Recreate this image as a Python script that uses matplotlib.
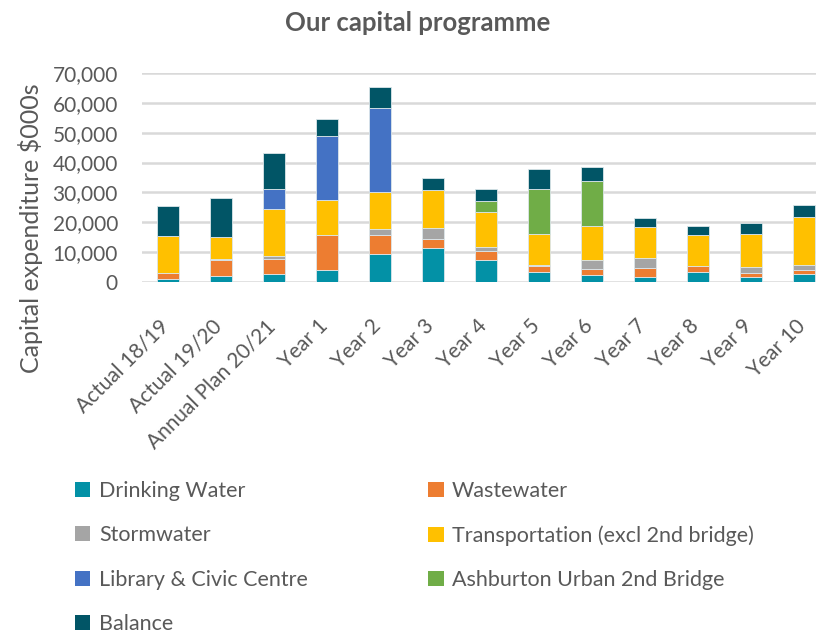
import matplotlib.pyplot as plt
from matplotlib.patches import Patch
from matplotlib.transforms import ScaledTranslation
import numpy as np

plt.rcParams['font.family'] = ['Lato', 'DejaVu Sans']

# Categories and values ($000s)
categorias = ['Actual 18/19', 'Actual 19/20', 'Annual Plan 20/21', 'Year 1', 'Year 2',
              'Year 3', 'Year 4', 'Year 5', 'Year 6', 'Year 7', 'Year 8', 'Year 9', 'Year 10']

drinking_water = [900, 2000, 2800, 4000, 9400, 11400, 7500, 3200, 2500, 1700, 3500, 1700, 2700]
wastewater = [2100, 5500, 4900, 11700, 6500, 3100, 2900, 2200, 1900, 3100, 1900, 1300, 1300]
stormwater = [0, 200, 900, 200, 1900, 3700, 1300, 400, 3100, 3300, 0, 2000, 1800]
transportation = [12300, 7400, 16000, 11700, 12300, 12700, 11600, 10300, 11200, 10400, 10300, 11100, 16000]
library = [0, 0, 6400, 21200, 28100, 0, 0, 0, 0, 0, 0, 0, 0]
bridge = [0, 0, 0, 0, 0, 0, 3900, 15000, 15000, 0, 0, 0, 0]
balance = [10300, 13000, 12100, 5900, 7200, 4000, 4000, 6700, 4700, 2800, 3200, 3600, 4100]

series = [
    ('Drinking Water', drinking_water, '#0391A6'),
    ('Wastewater', wastewater, '#ED7D31'),
    ('Stormwater', stormwater, '#A5A5A5'),
    ('Transportation (excl 2nd bridge)', transportation, '#FFC000'),
    ('Library & Civic Centre', library, '#4472C4'),
    ('Ashburton Urban 2nd Bridge', bridge, '#70AD47'),
    ('Balance', balance, '#015566'),
]

gris = '#595959'
fig = plt.figure(figsize=(8.16, 6.34), dpi=100)
ax = fig.add_axes([141.5 / 816, 1 - 282 / 634, 689 / 816, 209 / 634])

x = np.arange(len(categorias))
base = np.zeros(len(categorias))
handles = []
for nombre, valores, color in series:
    v = np.array(valores, dtype=float)
    ax.bar(x, v, 0.41, bottom=base, color=color, edgecolor='#DCE6EA', linewidth=0.6, zorder=3)
    base += v
    handles.append(Patch(facecolor=color, label=nombre))

ax.set_xlim(-0.5, 12.5)
ax.set_ylim(0, 70000)
ax.set_yticks(np.arange(0, 70001, 10000))
ax.set_yticklabels([f'{t:,}' for t in range(0, 70001, 10000)])
ax.set_xticks(x)
ax.set_xticklabels(categorias, rotation=45, ha='right', va='center', rotation_mode='anchor')
ax.tick_params(axis='both', length=0, labelsize=15, colors=gris)
ax.tick_params(axis='y', pad=17)
ax.tick_params(axis='x', pad=20)
# nudge rotated labels so their ends sit like Excel's
desplazamiento = ScaledTranslation(-1.5 / 72, -9.5 / 72, fig.dpi_scale_trans)
for lbl in ax.get_xticklabels():
    lbl.set_transform(lbl.get_transform() + desplazamiento)
ax.grid(axis='y', color='#D9D9D9', linewidth=1.8, zorder=0)
for s in ax.spines.values():
    s.set_visible(False)

fig.text(418 / 816, 1 - 23 / 634, 'Our capital programme', ha='center', va='center',
         fontsize=18.5, fontweight='bold', color=gris)
fig.text(31 / 816, 1 - 228 / 634, 'Capital expenditure $000s', ha='center', va='center',
         rotation=90, fontsize=18, color=gris)

orden = [0, 2, 4, 6, 1, 3, 5]
leg = fig.legend([handles[i] for i in orden], [handles[i].get_label() for i in orden],
                 ncol=2, loc='upper left', bbox_to_anchor=(56 / 816, 1 - 462 / 634),
                 frameon=False, fontsize=15.5, handlelength=0.7, handleheight=0.7,
                 handletextpad=0.4, labelspacing=1.12, columnspacing=5.6,
                 labelcolor=gris)

fig.savefig('out.png', dpi=100)
